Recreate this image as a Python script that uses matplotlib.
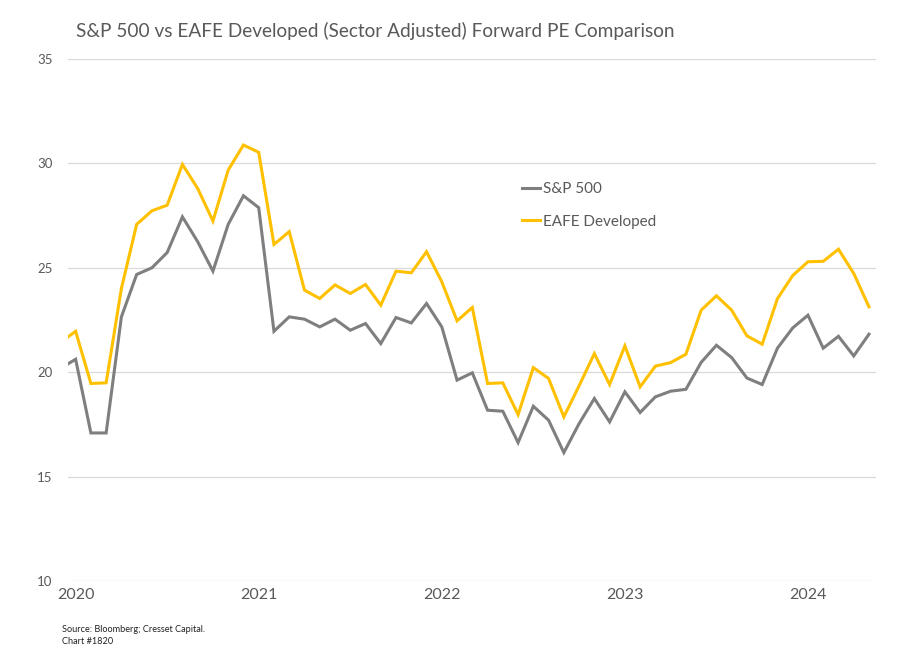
import matplotlib
matplotlib.use("Agg")
import matplotlib.pyplot as plt

# months since Jan 2020 (first reading sits half a month before Jan 2020)
months = [-0.5] + list(range(0, 53))

sp500 = [20.40, 20.62, 17.09, 17.09, 22.65, 24.68, 25.00, 25.73, 27.44, 26.25,
         24.84, 27.08, 28.45, 27.88, 21.96, 22.65, 22.54, 22.17, 22.54, 22.01,
         22.33, 21.37, 22.62, 22.36, 23.29, 22.17, 19.62, 19.97, 18.18, 18.13,
         16.63, 18.37, 17.70, 16.15, 17.54, 18.74, 17.62, 19.06, 18.07, 18.82,
         19.09, 19.18, 20.47, 21.29, 20.70, 19.72, 19.41, 21.15, 22.12, 22.73,
         21.15, 21.72, 20.78, 21.82]

eafe = [21.69, 21.96, 19.46, 19.49, 24.01, 27.08, 27.73, 28.00, 29.95, 28.80,
        27.24, 29.68, 30.88, 30.53, 26.12, 26.73, 23.93, 23.53, 24.18, 23.77,
        24.20, 23.21, 24.84, 24.76, 25.77, 24.33, 22.46, 23.10, 19.46, 19.49,
        17.97, 20.22, 19.70, 17.86, 19.35, 20.89, 19.41, 21.26, 19.30, 20.29,
        20.46, 20.86, 22.97, 23.66, 22.97, 21.74, 21.34, 23.52, 24.63, 25.29,
        25.31, 25.89, 24.73, 23.13]

year_ticks = [0, 12, 24, 36, 48]
year_labels = ["2020", "2021", "2022", "2023", "2024"]
y_ticks = [10, 15, 20, 25, 30, 35]

TEXT = "#595959"

plt.rcParams["font.family"] = ["Lato", "DejaVu Sans"]

fig = plt.figure(figsize=(9.24, 6.71), dpi=100)
ax = fig.add_axes([68 / 924, 1 - 581 / 671, (876 - 68) / 924, (581 - 59) / 671])

ax.plot(months, sp500, color="#7F7F7F", lw=2.2, label="S&P 500", solid_joinstyle="miter")
ax.plot(months, eafe, color="#FFC000", lw=2.2, label="EAFE Developed", solid_joinstyle="miter")

ax.set_xlim(-0.5, 52.46)
ax.set_ylim(10, 35)
ax.set_yticks(y_ticks)
ax.set_xticks(year_ticks)
ax.set_xticklabels(year_labels)

ax.grid(axis="y", color="#D9D9D9", lw=0.9)
ax.set_axisbelow(True)
for s in ax.spines.values():
    s.set_visible(False)
ax.tick_params(axis="both", length=0)
ax.tick_params(axis="y", labelsize=9.5, labelcolor=TEXT, pad=11)
ax.tick_params(axis="x", labelsize=11.5, labelcolor=TEXT, pad=5)

leg = ax.legend(loc="upper left", bbox_to_anchor=(0.545, 0.79), frameon=False,
                fontsize=11, handlelength=1.2, handletextpad=0.15,
                labelspacing=1.2, labelcolor=TEXT)

fig.text(76 / 924, 1 - 31 / 671, "S&P 500 vs EAFE Developed (Sector Adjusted) Forward PE Comparison",
         fontsize=13.7, color=TEXT, va="center", ha="left")
fig.text(62 / 924, 1 - 629 / 671, "Source: Bloomberg; Cresset Capital.",
         fontsize=6.6, color="#222222", va="center", ha="left")
fig.text(62 / 924, 1 - 642 / 671, "Chart #1820",
         fontsize=6.6, color="#222222", va="center", ha="left")

fig.savefig("out.png", dpi=100)
